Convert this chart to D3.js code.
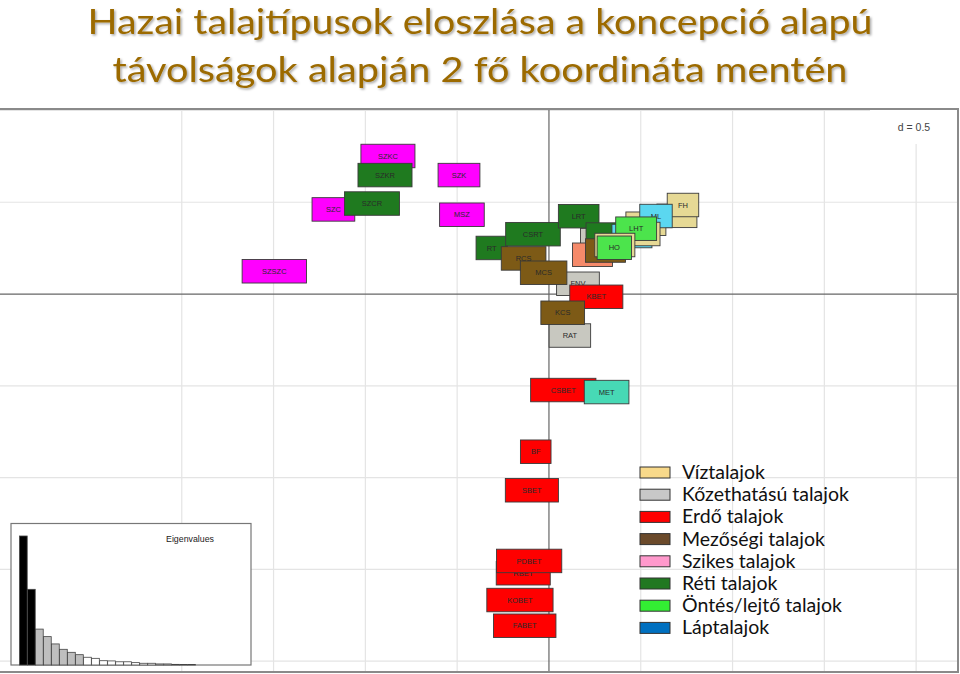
<!DOCTYPE html>
<html><head><meta charset="utf-8">
<script src="https://cdn.jsdelivr.net/npm/d3@7/dist/d3.min.js"></script>
<style>body{margin:0;background:#fff}svg{display:block}</style>
</head><body>
<svg id="c" width="960" height="674"></svg>
<script>
// ---- data ----
const titleLines = ["Hazai talajtípusok eloszlása a koncepció alapú", "távolságok alapján 2 fő koordináta mentén"];
const legendLabels = ["Víztalajok","Kőzethatású talajok","Erdő talajok","Mezőségi talajok","Szikes talajok","Réti talajok","Öntés/lejtő talajok","Láptalajok"];
const legendKeys = ["viz","kozet","erdo","mezo","szik","reti","ontes","lap"];
const xLimits = [-2.99, 2.228];
const yLimits = [-2.059, 1.008];
const gridXFrom = -2.0;
const gridStep = 0.5;
const dLabel = "d = 0.5";
// points in drawing order (labels hidden under other boxes in the source are left empty)
const pointLabels = ["SZKC","SZKR","SZK","SZC","SZCR","MSZ","SZSZC","RT","CSRT","RCS","FNV","MCS","","LRT","","","","KBET","RAT","KCS","","FH","","","ML","","LHT","","HO","CSBET","MET","BF","SBET","RBET","PDBET","KOBET","FABET"];
const pointX = [-0.877,-0.893,-0.490,-1.174,-0.964,-0.474,-1.496,-0.312,-0.087,-0.138,0.158,-0.029,0.281,0.162,0.311,0.237,0.308,0.258,0.114,0.075,0.697,0.730,0.452,0.528,0.583,0.496,0.475,0.359,0.356,0.078,0.314,-0.072,-0.093,-0.140,-0.108,-0.158,-0.132];
const pointY = [0.752,0.648,0.648,0.461,0.493,0.432,0.124,0.251,0.326,0.194,0.056,0.116,0.294,0.424,0.324,0.214,0.237,-0.015,-0.226,-0.102,0.426,0.485,0.316,0.383,0.425,0.327,0.356,0.267,0.252,-0.523,-0.534,-0.859,-1.069,-1.521,-1.454,-1.667,-1.807];
const pointGroup = ["szik","reti","szik","szik","reti","szik","szik","reti","reti","mezo","kozet","mezo","kozet","reti","reti","egyeb1","mezo","erdo","kozet","mezo","viz","viz","egyeb2","viz","egyeb2","viz","ontes","viz","ontes","erdo","egyeb3","erdo","erdo","erdo","erdo","erdo","erdo"];
const eigenvalues = [0.600,0.352,0.167,0.132,0.098,0.073,0.059,0.048,0.036,0.031,0.020,0.019,0.015,0.015,0.011,0.008,0.008,0.005,0.005,0.003,0.002,0.002];
const nAxes = 2, nGray = 8;

// ---- styles ----
const legendFill = {viz:"#F8D98A",kozet:"#C8C8C8",erdo:"#FF0000",mezo:"#6B4A2B",szik:"#FF99CC",reti:"#217821",ontes:"#33EE33",lap:"#0070C0"};
const chartFill = {viz:"#E6D995",kozet:"#C8C8C0",erdo:"#FF0000",mezo:"#7D5A16",szik:"#FF00FF",reti:"#1F7A1F",ontes:"#4CE44C",lap:"#0070C0",egyeb1:"#F58A6A",egyeb2:"#5BD7F0",egyeb3:"#47D9B5"};

const svg = d3.select("#c");
const defs = svg.append("defs");
const f = defs.append("filter").attr("id","sh").attr("x","-5%").attr("y","-40%").attr("width","110%").attr("height","180%");
f.append("feDropShadow").attr("dx",1.5).attr("dy",1.5).attr("stdDeviation",1.2).attr("flood-color","#000").attr("flood-opacity",0.35);

// plot frame
const x = d3.scaleLinear().domain(xLimits).range([0,958]);
const y = d3.scaleLinear().domain(yLimits).range([672,109]);
const plot = svg.append("g");
plot.append("rect").attr("x",x(xLimits[0])).attr("y",y(yLimits[1])).attr("width",x(xLimits[1])-x(xLimits[0])).attr("height",y(yLimits[0])-y(yLimits[1])).attr("fill","#fff");
const gx = d3.range(gridXFrom, xLimits[1], gridStep).filter(v=>Math.abs(v)>1e-9);
const gy = d3.range(Math.ceil(yLimits[0]/gridStep)*gridStep, yLimits[1], gridStep).filter(v=>Math.abs(v)>1e-9);
plot.selectAll(".gx").data(gx).join("line").attr("x1",d=>x(d)).attr("x2",d=>x(d)).attr("y1",y(yLimits[1])).attr("y2",y(yLimits[0])).attr("stroke","#E4E4E4").attr("stroke-width",1.2);
plot.selectAll(".gy").data(gy).join("line").attr("y1",d=>y(d)).attr("y2",d=>y(d)).attr("x1",x(xLimits[0])).attr("x2",x(xLimits[1])).attr("stroke","#E4E4E4").attr("stroke-width",1.2);
plot.append("line").attr("x1",x(0)).attr("x2",x(0)).attr("y1",y(yLimits[1])).attr("y2",y(yLimits[0])).attr("stroke","#666").attr("stroke-width",1.2);
plot.append("line").attr("y1",y(0)).attr("y2",y(0)).attr("x1",x(xLimits[0])).attr("x2",x(xLimits[1])).attr("stroke","#666").attr("stroke-width",1.2);

// d label
plot.append("rect").attr("x",870).attr("y",y(yLimits[1])+1).attr("width",x(xLimits[1])-871).attr("height",34).attr("fill","#fff");
plot.append("text").attr("x",914).attr("y",131).attr("text-anchor","middle").attr("font-family","Liberation Sans, Arial").attr("font-size",10.5).attr("fill","#444").text(dLabel);

// labels with boxes
const pts = pointLabels.map((l,i)=>({l, x:pointX[i], y:pointY[i], g:pointGroup[i]}));
const lg = plot.append("g");
pts.forEach(p=>{
  const g = lg.append("g");
  let bw = 40;
  if (p.l) {
    const t = g.append("text").attr("x",x(p.x)).attr("y",y(p.y)+2.6).attr("text-anchor","middle")
      .attr("font-family","Liberation Sans, Arial").attr("font-size",7.5).attr("fill","#2a2a2a").text(p.l);
    bw = t.node().getComputedTextLength()*2.25+9;
  }
  const bh = 23.5;
  g.insert("rect", p.l ? "text" : null).attr("x",x(p.x)-bw/2).attr("y",y(p.y)-bh/2).attr("width",bw).attr("height",bh)
    .attr("fill",chartFill[p.g]).attr("stroke","#3a3a3a").attr("stroke-width",0.9);
});

// frame border
plot.append("rect").attr("x",x(xLimits[0])-1).attr("y",y(yLimits[1])).attr("width",x(xLimits[1])-x(xLimits[0])+1).attr("height",y(yLimits[0])-y(yLimits[1])).attr("fill","none").attr("stroke","#8a8a8a").attr("stroke-width",2);

// eigenvalue inset
const ins = svg.append("g");
ins.append("rect").attr("x",11).attr("y",523.5).attr("width",240).attr("height",141.5).attr("fill","#fff").attr("stroke","#777").attr("stroke-width",1.2);
const ex = d3.scaleBand().domain(d3.range(eigenvalues.length)).range([19.5,195.5]).paddingInner(0.04);
const ey = d3.scaleLinear().domain([0, d3.max(eigenvalues)]).range([665,536]);
ins.selectAll(".eb").data(eigenvalues).join("rect").attr("x",(d,i)=>ex(i)).attr("width",ex.bandwidth())
  .attr("y",d=>ey(d)).attr("height",d=>665-ey(d))
  .attr("fill",(d,i)=>i<nAxes?"#000":(i<nGray?"#BEBEBE":"#fff")).attr("stroke","#444").attr("stroke-width",0.8);
ins.append("text").attr("x",190).attr("y",542).attr("text-anchor","middle").attr("font-family","Liberation Sans, Arial").attr("font-size",8.8).attr("fill","#222").text("Eigenvalues");

// legend
const leg = svg.append("g");
legendLabels.forEach((l,i)=>{
  const cy = 472.5 + i*22.2;
  leg.append("rect").attr("x",640).attr("y",cy-5.5).attr("width",30).attr("height",11).attr("fill",legendFill[legendKeys[i]]).attr("stroke","#333").attr("stroke-width",1);
  leg.append("text").attr("x",682).attr("y",cy+6.5).attr("font-family","Lato, 'Open Sans', sans-serif").attr("font-size",19.5).attr("fill","#111").text(l);
});

// title
const tt = svg.append("g").attr("filter","url(#sh)");
const tw0 = [785, 735];
titleLines.forEach((l,i)=>{
  tt.append("text").attr("x",480).attr("y",33.5+i*48.5).attr("text-anchor","middle").attr("font-family","Lato, 'Open Sans', sans-serif")
    .attr("font-size",35.5).attr("fill","#9C6B04").attr("textLength",tw0[i]).attr("lengthAdjust","spacingAndGlyphs").text(l);
});
</script>
</body></html>
